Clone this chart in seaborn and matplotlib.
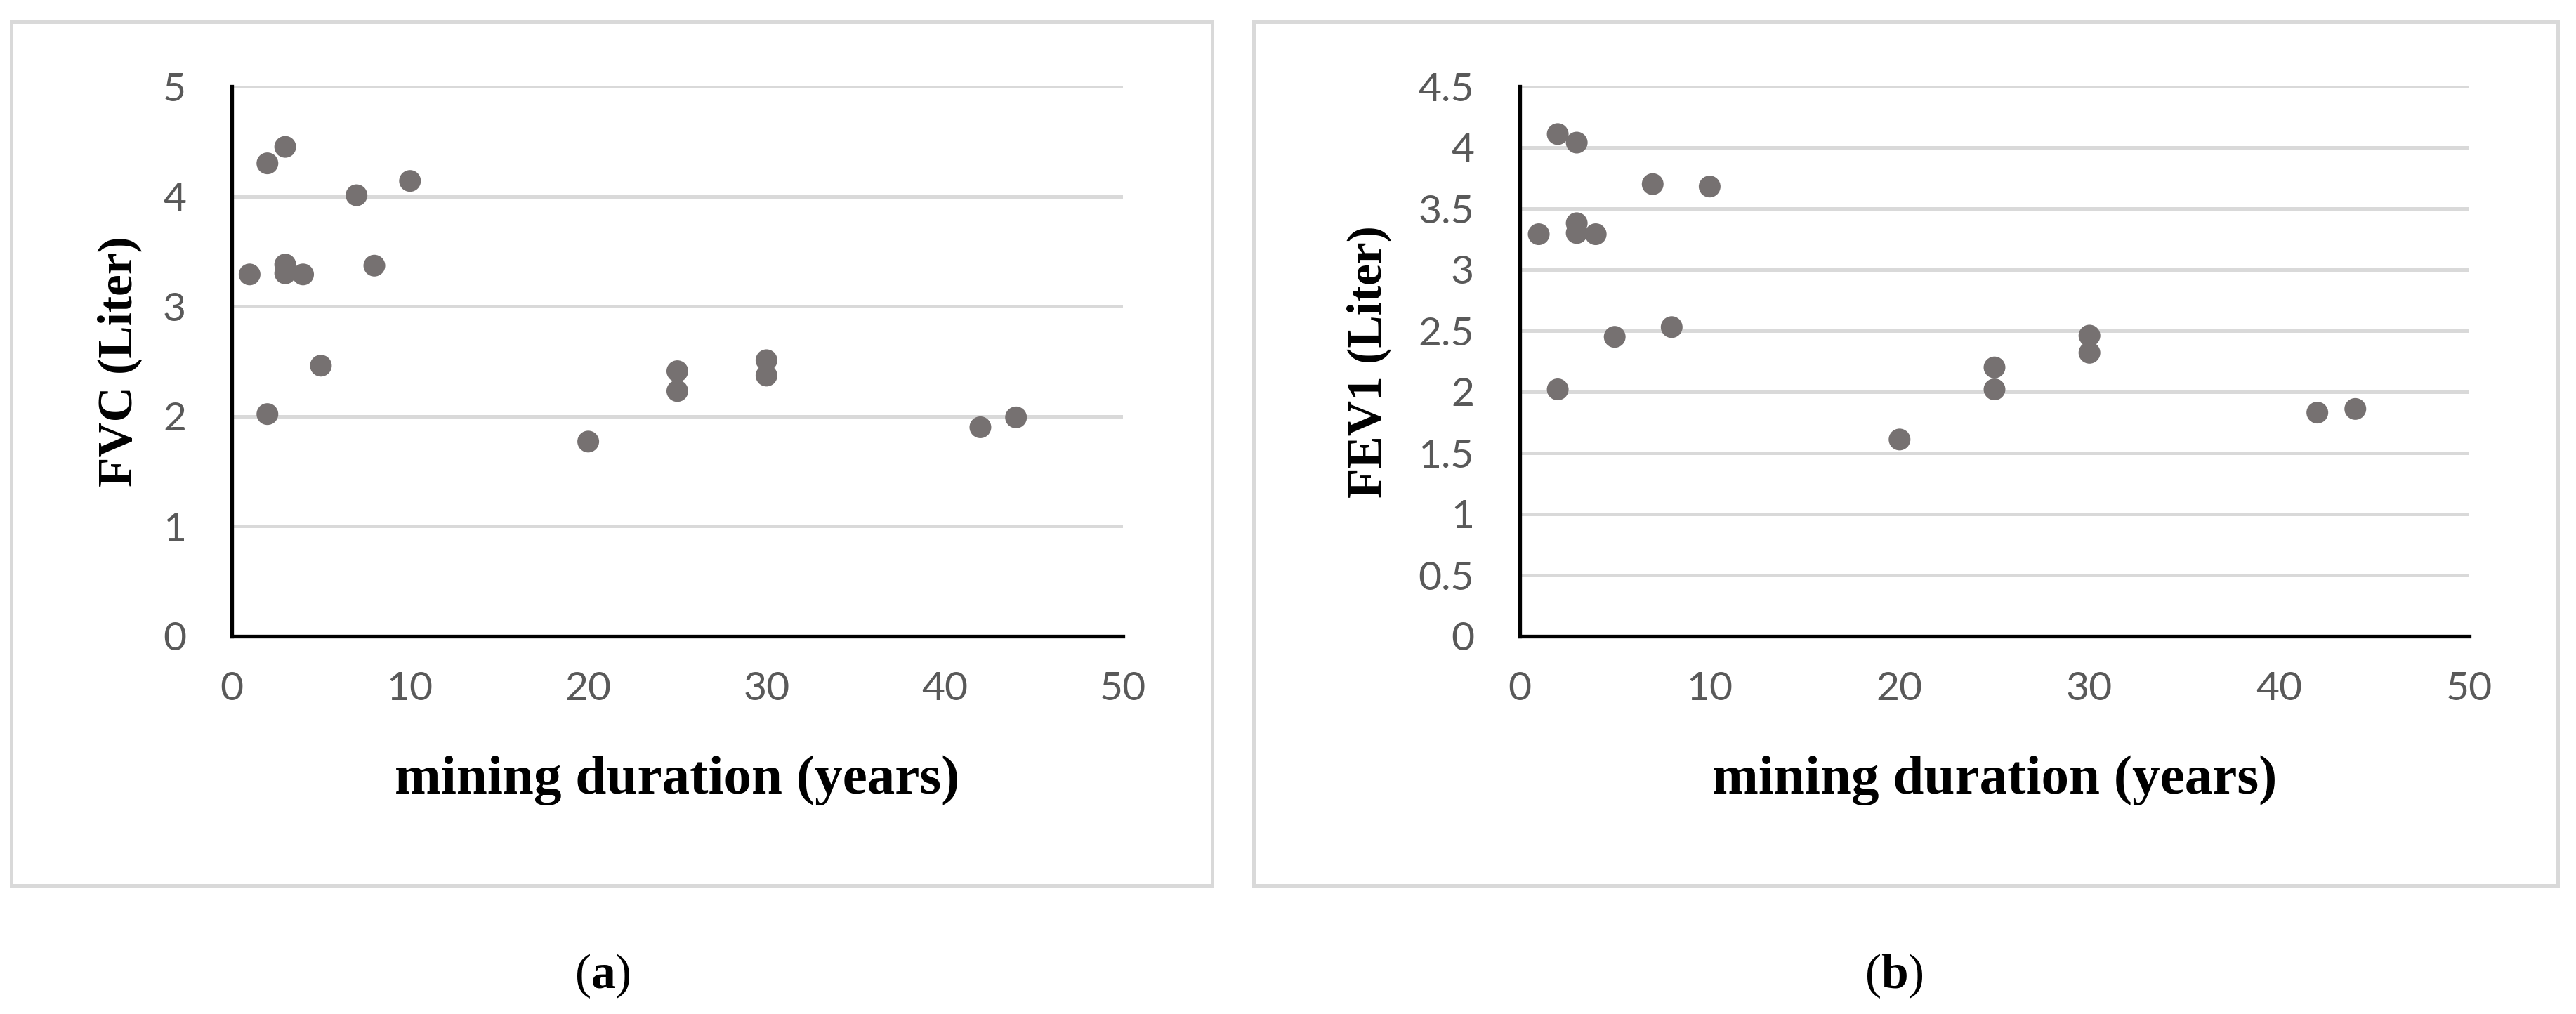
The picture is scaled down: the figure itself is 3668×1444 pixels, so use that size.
import matplotlib
matplotlib.use("Agg")
import matplotlib.pyplot as plt
import seaborn as sns
import pandas as pd
from matplotlib.patches import Rectangle
from matplotlib.ticker import FuncFormatter, MultipleLocator

# ---- data ----
years = [1, 2, 3, 2, 3, 3, 4, 5, 7, 8, 10, 20, 25, 25, 30, 30, 42, 44]
fvc = [3.29, 4.30, 4.45, 2.02, 3.38, 3.30, 3.29, 2.46, 4.01, 3.37, 4.14,
       1.77, 2.41, 2.23, 2.51, 2.37, 1.90, 1.99]
years_b = [1, 2, 3, 2, 3, 3, 4, 5, 7, 8, 10, 20, 25, 25, 30, 30, 42, 44]
fev1 = [3.29, 4.11, 4.04, 2.02, 3.38, 3.30, 3.29, 2.45, 3.70, 2.53, 3.68,
        1.61, 2.20, 2.02, 2.46, 2.32, 1.83, 1.86]
x_label = "mining duration (years)"
y_label_a = "FVC (Liter)"
y_label_b = "FEV1 (Liter)"
captions = ["a", "b"]

sns.set_theme(style="white")
plt.rcParams["font.family"] = ["Lato", "DejaVu Sans"]
plt.rcParams["mathtext.fontset"] = "custom"
plt.rcParams["mathtext.bf"] = "Liberation Serif:bold"
plt.rcParams["mathtext.rm"] = "Liberation Serif"

W, H = 3668, 1444
fig = plt.figure(figsize=(W / 100, H / 100), dpi=100)
fig.patch.set_facecolor("white")

PT = 72 / 100  # points per pixel
grid_c = "#D9D9D9"
tick_c = "#595959"
dot_c = "#767171"

def fx(px):
    return px / W

def fy(py):
    return 1 - py / H

# panel borders
for (x0, x1) in [(16, 1726), (1785, 3642)]:
    fig.patches.append(Rectangle((fx(x0), fy(1261)), fx(x1) - fx(x0), fy(31) - fy(1261),
                                 transform=fig.transFigure, fill=False,
                                 edgecolor=grid_c, linewidth=5 * PT, zorder=0))

panels = [
    dict(x0=330, x1=1599, ys=fvc, xs=years, ymax=5, ystep=1, ylab=y_label_a, ylx=170, cap=captions[0], capx=858),
    dict(x0=2164, x1=3516, ys=fev1, xs=years_b, ymax=4.5, ystep=0.5, ylab=y_label_b, ylx=1949, cap=captions[1], capx=2697),
]
top, bot = 123, 906

for p in panels:
    ax = fig.add_axes([fx(p["x0"]), fy(bot), fx(p["x1"]) - fx(p["x0"]), fy(top) - fy(bot)])
    df = pd.DataFrame({"x": p["xs"], "y": p["ys"]})
    sns.scatterplot(data=df, x="x", y="y", ax=ax, color=dot_c, s=(31 * PT) ** 2,
                    edgecolor="none", linewidth=0, zorder=3, clip_on=False)
    ax.set_xlim(0, 50)
    ax.set_ylim(0, p["ymax"])
    ax.xaxis.set_major_locator(MultipleLocator(10))
    ax.yaxis.set_major_locator(MultipleLocator(p["ystep"]))
    fmt = FuncFormatter(lambda v, pos: f"{v:g}")
    ax.xaxis.set_major_formatter(fmt)
    ax.yaxis.set_major_formatter(fmt)
    ax.set_axisbelow(True)
    ax.yaxis.grid(True, color=grid_c, linewidth=5 * PT)
    ax.xaxis.grid(False)
    for s in ["top", "right"]:
        ax.spines[s].set_visible(False)
    for s in ["left", "bottom"]:
        ax.spines[s].set_color("black")
        ax.spines[s].set_linewidth(5.3 * PT)
    ax.tick_params(axis="both", length=0, labelsize=41, labelcolor=tick_c)
    ax.tick_params(axis="y", pad=65 * PT)
    ax.tick_params(axis="x", pad=50 * PT)
    ax.set_facecolor("none")

    ax.set_xlabel(x_label, fontfamily="Liberation Serif", fontweight="bold", fontsize=57, color="black")
    ax.xaxis.label.set_va("center")
    ax.xaxis.set_label_coords(0.5, (bot - 1111) / (bot - top))
    ax.set_ylabel(p["ylab"], fontfamily="Liberation Serif", fontweight="bold", fontsize=50, color="black")
    ax.yaxis.label.set_va("center")
    ax.yaxis.set_label_coords((p["ylx"] - p["x0"]) / (p["x1"] - p["x0"]), (bot - 515) / (bot - top))

    fig.text(fx(p["capx"]), fy(1390), r"($\mathbf{" + p["cap"] + r"}$)", ha="center", va="center",
             fontfamily="Liberation Serif", fontsize=50, color="black")

fig.savefig("out.png", dpi=100, facecolor="white")
